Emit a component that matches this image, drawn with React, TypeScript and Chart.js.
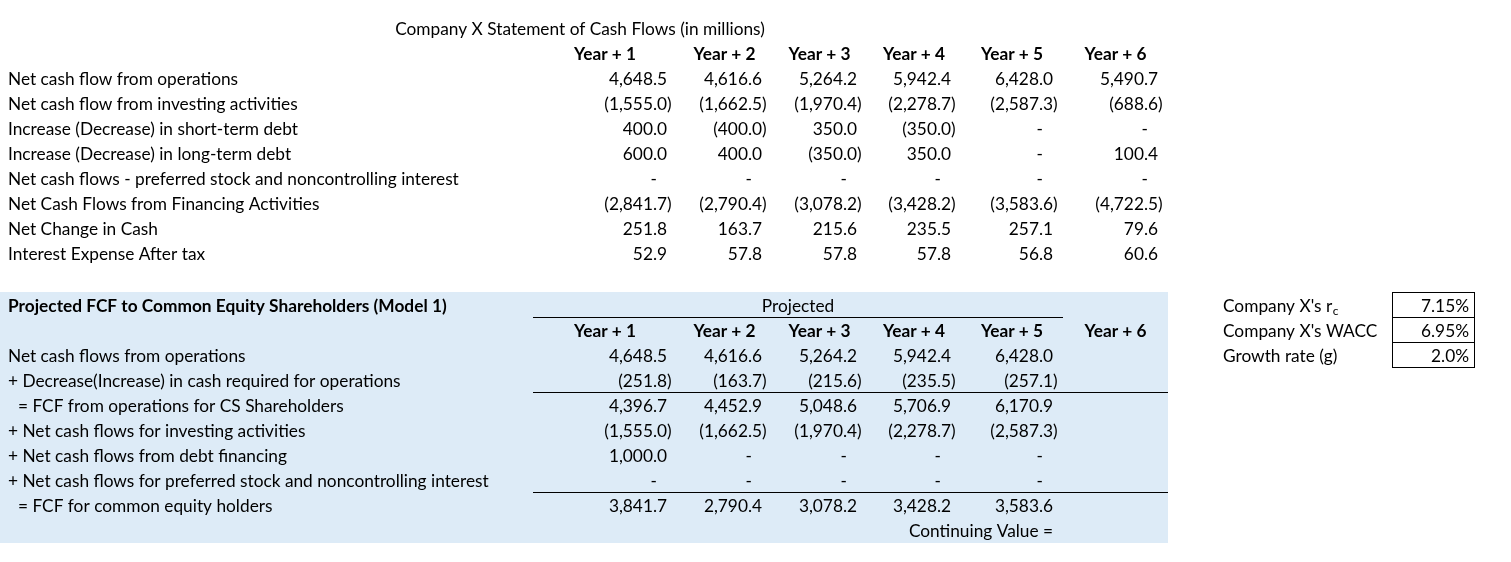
import React, { useEffect, useRef } from 'react';
import { Chart, registerables } from 'chart.js';

Chart.register(...registerables);

const W = 1511;
const H = 562;

// ---------- data ----------
const title = 'Company X Statement of Cash Flows (in millions)';
const years = ['Year + 1', 'Year + 2', 'Year + 3', 'Year + 4', 'Year + 5', 'Year + 6'];

const cfLabels = [
  'Net cash flow from operations',
  'Net cash flow from investing activities',
  'Increase (Decrease) in short-term debt',
  'Increase (Decrease) in long-term debt',
  'Net cash flows - preferred stock and noncontrolling interest',
  'Net Cash Flows from Financing Activities',
  'Net Change in Cash',
  'Interest Expense After tax',
];
const cfOps = [4648.5, 4616.6, 5264.2, 5942.4, 6428.0, 5490.7];
const cfInvesting = [-1555.0, -1662.5, -1970.4, -2278.7, -2587.3, -688.6];
const cfShortDebt = [400.0, -400.0, 350.0, -350.0, 0, 0];
const cfLongDebt = [600.0, 400.0, -350.0, 350.0, 0, 100.4];
const cfPreferred = [0, 0, 0, 0, 0, 0];
const cfFinancing = [-2841.7, -2790.4, -3078.2, -3428.2, -3583.6, -4722.5];
const cfNetChange = [251.8, 163.7, 215.6, 235.5, 257.1, 79.6];
const cfInterest = [52.9, 57.8, 57.8, 57.8, 56.8, 60.6];

const fcfTitle = 'Projected FCF to Common Equity Shareholders (Model 1)';
const fcfGroupLabel = 'Projected';
const fcfLabels = [
  'Net cash flows from operations',
  '+ Decrease(Increase) in cash required for operations',
  '= FCF from operations for CS Shareholders',
  '+ Net cash flows for investing activities',
  '+ Net cash flows from debt financing',
  '+ Net cash flows for preferred stock and noncontrolling interest',
  '= FCF for common equity holders',
];
const fcfOps = [4648.5, 4616.6, 5264.2, 5942.4, 6428.0];
const fcfCashReq = [-251.8, -163.7, -215.6, -235.5, -257.1];
const fcfFromOps = [4396.7, 4452.9, 5048.6, 5706.9, 6170.9];
const fcfInvesting = [-1555.0, -1662.5, -1970.4, -2278.7, -2587.3];
const fcfDebt = [1000.0, 0, 0, 0, 0];
const fcfPreferred = [0, 0, 0, 0, 0];
const fcfCommon = [3841.7, 2790.4, 3078.2, 3428.2, 3583.6];
const continuingLabel = 'Continuing Value =';

const rateLabels = ["Company X's r", "Company X's WACC", 'Growth rate (g)'];
const rateSub = ['c', '', ''];
const rateValues = [7.15, 6.95, 2.0];
const rateDecimals = [2, 2, 1];

const cfRows = [cfOps, cfInvesting, cfShortDebt, cfLongDebt, cfPreferred, cfFinancing, cfNetChange, cfInterest];
const fcfRows = [fcfOps, fcfCashReq, fcfFromOps, fcfInvesting, fcfDebt, fcfPreferred, fcfCommon];

// ---------- layout ----------
const FONT = 'Lato';
const FS = 17.3;
const COL_EDGES = [533, 677, 772, 867, 961, 1063, 1168];
const NUM_PAD = 10;
const LOWER_SHIFT = 0.08;
const BLUE = '#DDEBF7';

function fmt(v: number, d = 1) {
  return Math.abs(v).toLocaleString('en-US', { minimumFractionDigits: d, maximumFractionDigits: d });
}

const tablePlugin = {
  id: 'tablePlugin',
  afterDraw(chart: any) {
    const ctx: CanvasRenderingContext2D = chart.ctx;
    const xs = chart.scales.x;
    const ys = chart.scales.y;
    const X = (v: number) => xs.getPixelForValue(v);
    const rowY = (r: number) => ys.getPixelForValue(r >= 11 ? r + LOWER_SHIFT : r);
    const rowTop = (r: number) => ys.getPixelForValue((r >= 11 ? r + LOWER_SHIFT : r) - 0.5);
    const base = (r: number) => rowY(r) + 7;
    const normal = `${FS}px ${FONT}`;
    const bold = `bold ${FS}px ${FONT}`;

    ctx.save();
    // blue background of FCF block
    const bTop = rowTop(11);
    const bBot = rowTop(21);
    ctx.fillStyle = BLUE;
    ctx.fillRect(X(0), Math.round(bTop), X(COL_EDGES[6]) - X(0), Math.round(bBot) - Math.round(bTop));

    ctx.fillStyle = '#000';
    ctx.textBaseline = 'alphabetic';

    const text = (s: string, x: number, r: number, align: CanvasTextAlign = 'left', f = normal) => {
      ctx.font = f;
      ctx.textAlign = align;
      ctx.fillText(s, x, base(r));
    };
    const num = (v: number, col: number, r: number) => {
      const right = X(COL_EDGES[col + 1]) - NUM_PAD;
      ctx.font = normal;
      if (v === 0) {
        ctx.textAlign = 'right';
        ctx.fillText('-', right - 10, base(r));
      } else if (v < 0) {
        ctx.textAlign = 'right';
        ctx.fillText('(' + fmt(v), right, base(r));
        ctx.textAlign = 'left';
        ctx.fillText(')', right, base(r));
      } else {
        ctx.textAlign = 'right';
        ctx.fillText(fmt(v), right, base(r));
      }
    };
    const hline = (x0: number, x1: number, boundary: number) => {
      ctx.fillRect(Math.round(X(x0)), Math.floor(boundary), Math.round(X(x1) - X(x0)), 1);
    };

    // ---- upper table ----
    text(title, X(580), 0, 'center');
    years.forEach((y, i) => text(y, X((COL_EDGES[i] + COL_EDGES[i + 1]) / 2), 1, 'center', bold));
    cfLabels.forEach((l, i) => text(l, X(8), 2 + i));
    cfRows.forEach((row, i) => row.forEach((v, c) => num(v, c, 2 + i)));

    // ---- lower table ----
    text(fcfTitle, X(8), 11, 'left', bold);
    text(fcfGroupLabel, X((COL_EDGES[0] + COL_EDGES[5]) / 2), 11, 'center');
    hline(COL_EDGES[0], COL_EDGES[5], rowTop(12));
    years.forEach((y, i) => text(y, X((COL_EDGES[i] + COL_EDGES[i + 1]) / 2), 12, 'center', bold));
    fcfLabels.forEach((l, i) => text(l, X(l.startsWith('=') ? 18 : 8), 13 + i));
    fcfRows.forEach((row, i) => row.forEach((v, c) => num(v, c, 13 + i)));
    hline(COL_EDGES[0], COL_EDGES[6], rowTop(15));
    hline(COL_EDGES[0], COL_EDGES[6], rowTop(19));
    text(continuingLabel, X(COL_EDGES[5]) - NUM_PAD, 20, 'right');

    // ---- rates box ----
    const bx0 = Math.round(X(1392)) + 0.5;
    const bx1 = Math.round(X(1474)) + 0.5;
    ctx.strokeStyle = '#000';
    ctx.lineWidth = 1;
    rateLabels.forEach((l, i) => {
      const r = 11 + i;
      ctx.font = normal;
      ctx.textAlign = 'left';
      ctx.fillText(l, X(1223), base(r));
      if (rateSub[i]) {
        const w = ctx.measureText(l).width;
        ctx.font = `${Math.round(FS * 0.68)}px ${FONT}`;
        ctx.fillText(rateSub[i], X(1223) + w + 0.5, base(r) + 3);
      }
      ctx.font = normal;
      ctx.textAlign = 'right';
      ctx.fillText(rateValues[i].toFixed(rateDecimals[i]) + '%', X(1469), base(r));
      const t = Math.floor(rowTop(r)) + 0.5;
      const b = Math.floor(rowTop(r + 1)) + 0.5;
      ctx.strokeRect(bx0, t, bx1 - bx0, b - t);
    });
    ctx.restore();
  },
};

export default function App() {
  const ref = useRef<HTMLCanvasElement | null>(null);
  useEffect(() => {
    document.body.style.margin = '0';
    const canvas = ref.current!;
    const chart = new Chart(canvas, {
      type: 'scatter',
      data: { datasets: [] },
      options: {
        responsive: false,
        animation: false,
        devicePixelRatio: 1,
        layout: { padding: 0 },
        plugins: { legend: { display: false }, tooltip: { enabled: false } },
        scales: {
          x: { type: 'linear', min: 0, max: W, display: false },
          y: { type: 'linear', min: -28 / 25, max: (H - 28) / 25, reverse: true, display: false },
        },
      },
      plugins: [tablePlugin],
    });
    return () => chart.destroy();
  }, []);
  return (
    <div style={{ width: W, height: H, background: '#fff' }}>
      <canvas ref={ref} width={W} height={H} style={{ display: 'block' }} />
    </div>
  );
}
